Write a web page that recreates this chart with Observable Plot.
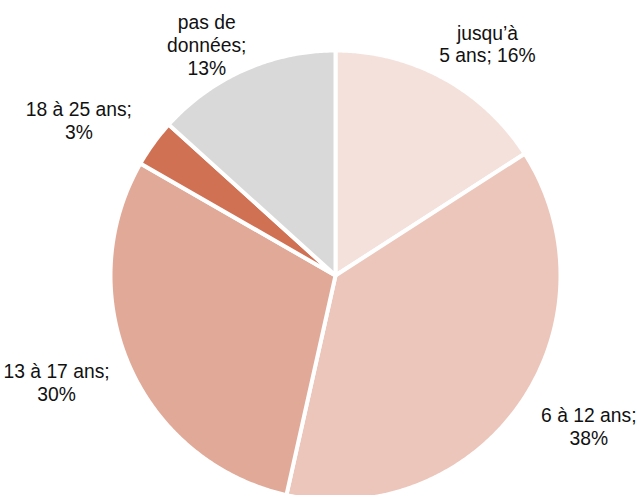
<!DOCTYPE html>
<html>
<head>
<meta charset="utf-8">
<script src="https://cdn.jsdelivr.net/npm/d3@7"></script>
<script src="https://cdn.jsdelivr.net/npm/@observablehq/plot@0.6"></script>
<style>
  html, body { margin: 0; padding: 0; background: #fff; }
  #chart { width: 639px; height: 495px; overflow: hidden; }
</style>
</head>
<body>
<div id="chart"></div>
<script>
// Data (clockwise from 12 o'clock)
const categories = ["jusqu’à 5 ans", "6 à 12 ans", "13 à 17 ans", "18 à 25 ans", "pas de données"];
const shares = [15.9, 37.6, 29.8, 3.4, 13.3];
const labelHeads = ["jusqu’à\n5 ans; ", "6 à 12 ans;\n", "13 à 17 ans;\n", "18 à 25 ans;\n", "pas de\ndonnées;\n"];
const colors = ["#F4E1DB", "#ECC6BA", "#E1A997", "#D07154", "#D9D9D9"];

const W = 639, H = 495;
const fontSize = 19.3, lineHeight = 1.18;
const fontFamily = "'Liberation Sans', Arial, sans-serif";

const total = d3.sum(shares);
const slices = [];
let acc = 0;
categories.forEach((c, i) => {
  const a0 = acc / total * 2 * Math.PI;
  acc += shares[i];
  const a1 = acc / total * 2 * Math.PI;
  slices.push({key: c, a0, a1, mid: (a0 + a1) / 2,
    label: labelHeads[i] + Math.round(shares[i] / total * 100) + "%"});
});

// polygon points for each slice (unit circle, angle from top, clockwise)
const pts = [];
for (const s of slices) {
  pts.push({key: s.key, x: 0, y: 0});
  const n = Math.max(2, Math.ceil((s.a1 - s.a0) / (Math.PI / 360)));
  for (let k = 0; k <= n; k++) {
    const a = s.a0 + (s.a1 - s.a0) * k / n;
    pts.push({key: s.key, x: Math.sin(a), y: Math.cos(a)});
  }
  pts.push({key: s.key, x: 0, y: 0});
}

const xScale = {domain: [-1, 1], range: [110, 560]};
const yScale = {domain: [-1, 1], range: [500, 50]};
const sx = d3.scaleLinear(xScale.domain, xScale.range);
const sy = d3.scaleLinear(yScale.domain, yScale.range);

// measure label blocks to keep them inside the frame
const ctx = document.createElement("canvas").getContext("2d");
ctx.font = `${fontSize}px ${fontFamily}`;
const labelRx = 1.41, labelRy = 1.173, pad = 3, padTop = 10;
const labels = slices.map(s => {
  const lines = s.label.split("\n");
  const hw = d3.max(lines, l => ctx.measureText(l).width) / 2;
  const hh = lines.length * fontSize * lineHeight / 2;
  let px = sx(labelRx * Math.sin(s.mid));
  let py = sy(labelRy * Math.cos(s.mid));
  px = Math.min(W - hw - pad, Math.max(hw + pad, px));
  py = Math.min(H - hh - pad, Math.max(hh + padTop, py));
  return {text: s.label, x: sx.invert(px), y: sy.invert(py)};
});

const plot = Plot.plot({
  width: W,
  height: H,
  margin: 0,
  style: {background: "#fff", fontFamily},
  x: {...xScale, axis: null},
  y: {...yScale, axis: null},
  color: {domain: categories, range: colors},
  marks: [
    Plot.line(pts, {x: "x", y: "y", z: "key", fill: "key", stroke: "#fff",
      strokeWidth: 4, strokeLinejoin: "round", curve: "linear"}),
    Plot.text(labels, {x: "x", y: "y", text: "text", fontSize,
      lineHeight, fill: "#111", textAnchor: "middle", lineAnchor: "middle"})
  ]
});
document.getElementById("chart").appendChild(plot);
</script>
</body>
</html>
